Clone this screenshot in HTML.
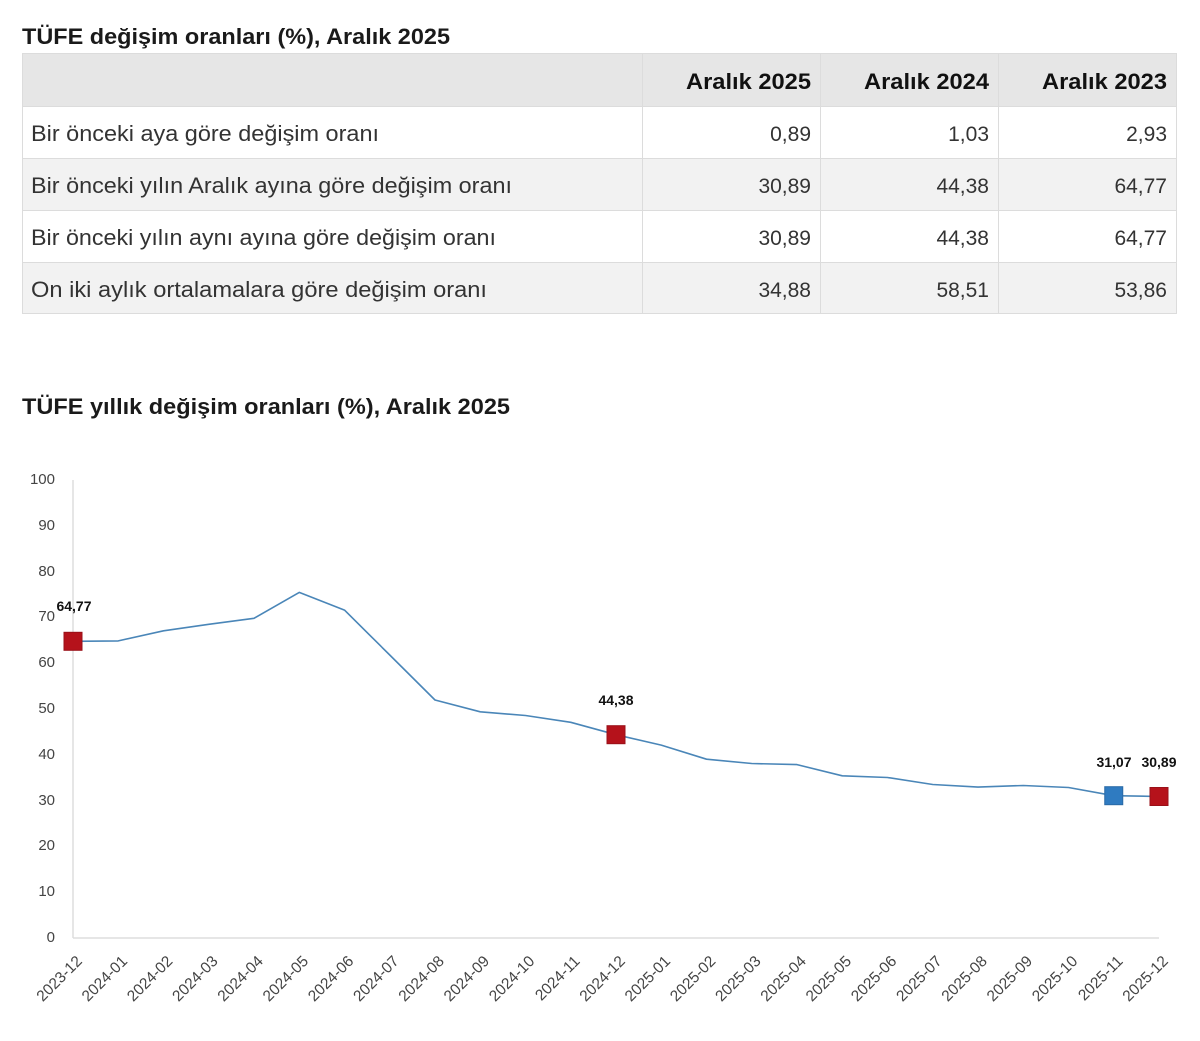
<!DOCTYPE html>
<html><head><meta charset="utf-8"><style>
html,body{margin:0;padding:0;background:#fff;}
svg{display:block;}
</style></head><body>
<svg width="1200" height="1041" viewBox="0 0 1200 1041" xmlns="http://www.w3.org/2000/svg" font-family="'Liberation Sans', Arial, sans-serif">
<rect width="1200" height="1041" fill="#fff"/>
<!-- Table title -->
<text x="22" y="44" font-size="22" font-weight="bold" fill="#1a1a1a" textLength="428" lengthAdjust="spacingAndGlyphs">TÜFE değişim oranları (%), Aralık 2025</text>
<!-- Table backgrounds -->
<rect x="22" y="53" width="1155" height="53" fill="#e6e6e6"/>
<rect x="22" y="106" width="1155" height="52" fill="#ffffff"/>
<rect x="22" y="158" width="1155" height="52" fill="#f2f2f2"/>
<rect x="22" y="210" width="1155" height="52" fill="#ffffff"/>
<rect x="22" y="262" width="1155" height="52" fill="#f2f2f2"/>
<g stroke="#dcdcdc" stroke-width="1" fill="none">
<rect x="22.5" y="53.5" width="1154" height="260"/>
<line x1="22" y1="106.5" x2="1177" y2="106.5"/>
<line x1="22" y1="158.5" x2="1177" y2="158.5"/>
<line x1="22" y1="210.5" x2="1177" y2="210.5"/>
<line x1="22" y1="262.5" x2="1177" y2="262.5"/>
<line x1="642.5" y1="53" x2="642.5" y2="314"/>
<line x1="820.5" y1="53" x2="820.5" y2="314"/>
<line x1="998.5" y1="53" x2="998.5" y2="314"/>
</g>
<!-- header -->
<g font-size="22" font-weight="bold" fill="#111">
<text x="686" y="89" textLength="125" lengthAdjust="spacingAndGlyphs">Aralık 2025</text>
<text x="864" y="89" textLength="125" lengthAdjust="spacingAndGlyphs">Aralık 2024</text>
<text x="1042" y="89" textLength="125" lengthAdjust="spacingAndGlyphs">Aralık 2023</text>
</g>
<!-- rows -->
<g font-size="22" fill="#333">
<text x="31" y="141" textLength="348" lengthAdjust="spacingAndGlyphs">Bir önceki aya göre değişim oranı</text>
<text x="31" y="193" textLength="481" lengthAdjust="spacingAndGlyphs">Bir önceki yılın Aralık ayına göre değişim oranı</text>
<text x="31" y="245" textLength="465" lengthAdjust="spacingAndGlyphs">Bir önceki yılın aynı ayına göre değişim oranı</text>
<text x="31" y="297" textLength="456" lengthAdjust="spacingAndGlyphs">On iki aylık ortalamalara göre değişim oranı</text>
</g>
<g font-size="21" fill="#333" text-anchor="end">
<text x="811" y="141">0,89</text><text x="989" y="141">1,03</text><text x="1167" y="141">2,93</text>
<text x="811" y="193">30,89</text><text x="989" y="193">44,38</text><text x="1167" y="193">64,77</text>
<text x="811" y="245">30,89</text><text x="989" y="245">44,38</text><text x="1167" y="245">64,77</text>
<text x="811" y="297">34,88</text><text x="989" y="297">58,51</text><text x="1167" y="297">53,86</text>
</g>
<!-- Chart title -->
<text x="22" y="414" font-size="22" font-weight="bold" fill="#1a1a1a" textLength="488" lengthAdjust="spacingAndGlyphs">TÜFE yıllık değişim oranları (%), Aralık 2025</text>
<!-- axes -->
<g stroke="#dddddd" stroke-width="1.5">
<line x1="73" y1="480" x2="73" y2="938"/>
<line x1="73" y1="938" x2="1159" y2="938"/>
</g>
<!-- y labels -->
<g font-size="15" fill="#444" text-anchor="end">
<text x="55" y="484">100</text>
<text x="55" y="530">90</text>
<text x="55" y="576">80</text>
<text x="55" y="621">70</text>
<text x="55" y="667">60</text>
<text x="55" y="713">50</text>
<text x="55" y="759">40</text>
<text x="55" y="805">30</text>
<text x="55" y="850">20</text>
<text x="55" y="896">10</text>
<text x="55" y="942">0</text>
</g>
<!-- x labels -->
<g font-size="15.5" fill="#444" text-anchor="end">
<text transform="translate(83,962) rotate(-45)">2023-12</text>
<text transform="translate(128.25,962) rotate(-45)">2024-01</text>
<text transform="translate(173.5,962) rotate(-45)">2024-02</text>
<text transform="translate(218.75,962) rotate(-45)">2024-03</text>
<text transform="translate(264,962) rotate(-45)">2024-04</text>
<text transform="translate(309.25,962) rotate(-45)">2024-05</text>
<text transform="translate(354.5,962) rotate(-45)">2024-06</text>
<text transform="translate(399.75,962) rotate(-45)">2024-07</text>
<text transform="translate(445,962) rotate(-45)">2024-08</text>
<text transform="translate(490.25,962) rotate(-45)">2024-09</text>
<text transform="translate(535.5,962) rotate(-45)">2024-10</text>
<text transform="translate(580.75,962) rotate(-45)">2024-11</text>
<text transform="translate(626,962) rotate(-45)">2024-12</text>
<text transform="translate(671.25,962) rotate(-45)">2025-01</text>
<text transform="translate(716.5,962) rotate(-45)">2025-02</text>
<text transform="translate(761.75,962) rotate(-45)">2025-03</text>
<text transform="translate(807,962) rotate(-45)">2025-04</text>
<text transform="translate(852.25,962) rotate(-45)">2025-05</text>
<text transform="translate(897.5,962) rotate(-45)">2025-06</text>
<text transform="translate(942.75,962) rotate(-45)">2025-07</text>
<text transform="translate(988,962) rotate(-45)">2025-08</text>
<text transform="translate(1033.25,962) rotate(-45)">2025-09</text>
<text transform="translate(1078.5,962) rotate(-45)">2025-10</text>
<text transform="translate(1123.75,962) rotate(-45)">2025-11</text>
<text transform="translate(1169,962) rotate(-45)">2025-12</text>
</g>
<!-- series line -->
<polyline fill="none" stroke="#4a86b8" stroke-width="1.6" stroke-linejoin="round"
points="73,641.3 118.25,640.9 163.5,630.8 208.75,624.3 254,618.3 299.25,592.4 344.5,610.1 389.75,655.0 435,700.0 480.25,711.8 525.5,715.5 570.75,722.3 616,734.7 661.25,745.1 706.5,759.2 751.75,763.5 797,764.6 842.25,775.8 887.5,777.5 932.75,784.5 978,787.1 1023.25,785.5 1068.5,787.5 1113.75,795.7 1159,796.5"/>
<!-- markers -->
<rect x="64" y="632.3" width="18" height="18" fill="#b5121b" stroke="#9a1018" stroke-width="1"/>
<rect x="607" y="725.7" width="18" height="18" fill="#b5121b" stroke="#9a1018" stroke-width="1"/>
<rect x="1104.75" y="786.7" width="18" height="18" fill="#2f7bc1" stroke="#2a6aa6" stroke-width="1"/>
<rect x="1150" y="787.5" width="18" height="18" fill="#b5121b" stroke="#9a1018" stroke-width="1"/>
<!-- data labels -->
<g font-size="14" font-weight="bold" fill="#111" text-anchor="middle">
<text x="74" y="611">64,77</text>
<text x="616" y="705">44,38</text>
<text x="1114" y="767">31,07</text>
<text x="1159" y="767">30,89</text>
</g>
</svg>
</body></html>
